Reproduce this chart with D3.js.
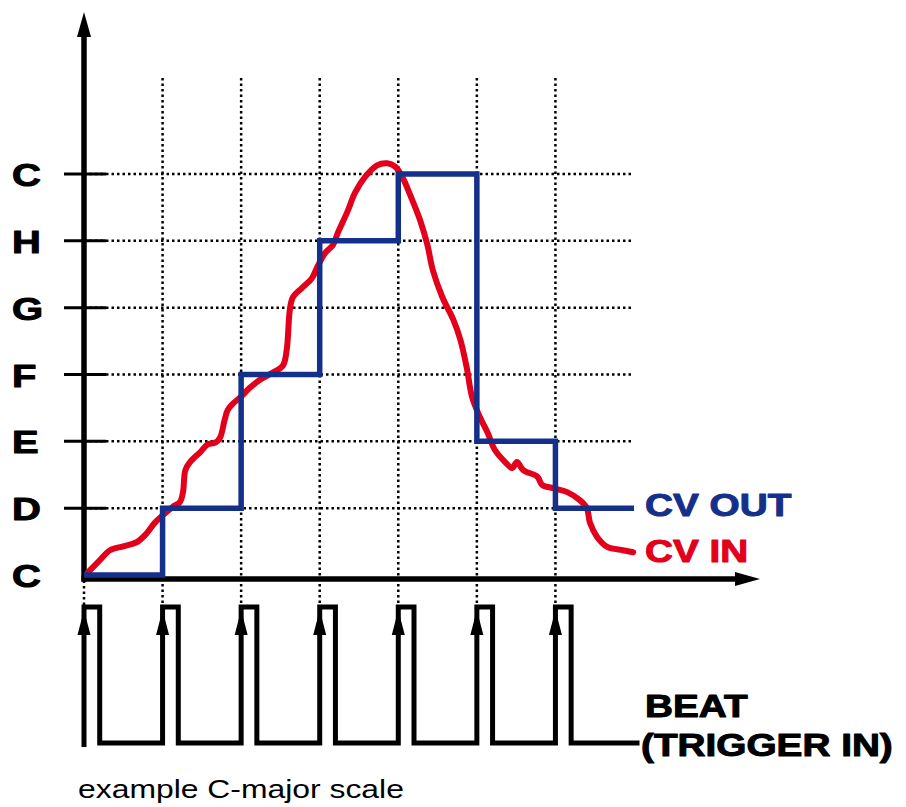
<!DOCTYPE html>
<html>
<head>
<meta charset="utf-8">
<script src="https://d3js.org/d3.v7.min.js"></script>
<style>
  body { margin: 0; background: #fff; }
  text { font-family: "Liberation Sans", Arial, sans-serif; }
</style>
</head>
<body>
<div id="chart"></div>
<script>
// note names on the y axis, bottom to top
var noteLabels = ["C", "D", "E", "F", "G", "H", "C"];
// beats where a trigger pulse comes in
var triggerBeats = [0, 1, 2, 3, 4, 5, 6];
// CV OUT: quantized note held from each beat until the next one
var cvOutLevel = [0, 1, 3, 5, 6, 2, 1];
// CV IN: raw control voltage, beat position and note level
var cvInBeat = [0.05, 0.20, 0.33, 0.50, 0.67, 0.78, 0.90, 1.01, 1.13, 1.22, 1.26, 1.29, 1.35, 1.48, 1.57, 1.67,
    1.73, 1.79, 1.83, 1.90, 1.99, 2.11, 2.24, 2.39, 2.53, 2.58, 2.62, 2.66, 2.77, 2.90, 2.97, 3.07,
    3.17, 3.23, 3.35, 3.45, 3.58, 3.73, 3.86, 3.96, 4.05, 4.15, 4.28, 4.37, 4.44, 4.56, 4.70, 4.79,
    4.87, 4.94, 5.04, 5.14, 5.23, 5.36, 5.45, 5.51, 5.59, 5.77, 5.83, 5.97, 6.15, 6.31, 6.40, 6.44,
    6.53, 6.66, 6.86, 6.99];
var cvInLevel = [0.04, 0.22, 0.37, 0.43, 0.49, 0.60, 0.78, 0.90, 1.02, 1.09, 1.24, 1.57, 1.69, 1.84, 1.95, 1.98,
    2.05, 2.32, 2.47, 2.57, 2.66, 2.80, 2.92, 3.02, 3.13, 3.37, 3.97, 4.16, 4.29, 4.44, 4.61, 4.82,
    4.94, 5.12, 5.43, 5.72, 5.96, 6.13, 6.16, 6.11, 5.96, 5.69, 5.30, 4.94, 4.56, 4.16, 3.82, 3.52,
    3.11, 2.66, 2.36, 2.12, 1.87, 1.69, 1.60, 1.69, 1.57, 1.47, 1.35, 1.30, 1.24, 1.12, 1.00, 0.78,
    0.57, 0.42, 0.37, 0.34];
var pulseWidth = 0.2;   // beats the trigger stays high
var pulseEnd = 7.07;    // where the beat line stops

var blue = "#15308a", red = "#e2001a";
var stretch = 1.25;     // the lettering is wide

var width = 906, height = 807;
var svg = d3.select("#chart")
    .append("svg")
    .attr("width", width)
    .attr("height", height);

var x = d3.scaleLinear().domain([0, 7]).range([84, 634]);
var y = d3.scaleLinear().domain([0, 6]).range([575, 174]);
var yPulse = d3.scaleLinear().domain([0, 1]).range([743, 607]);

var gridTop = 78;

// dotted grid
var grid = svg.append("g")
    .attr("stroke", "#000")
    .attr("stroke-width", 2.5)
    .attr("stroke-dasharray", "2.5,3");
grid.selectAll(".hgrid")
    .data(d3.range(1, noteLabels.length))
    .enter().append("line")
    .attr("x1", x(0)).attr("x2", x(7))
    .attr("y1", d => y(d)).attr("y2", d => y(d));
grid.selectAll(".vgrid")
    .data(triggerBeats)
    .enter().append("line")
    .attr("x1", d => x(d)).attr("x2", d => x(d))
    .attr("y1", d => d === 0 ? y(0) : gridTop)
    .attr("y2", yPulse(1));

// short solid ticks at every note
svg.selectAll(".tick")
    .data(d3.range(1, noteLabels.length))
    .enter().append("line")
    .attr("x1", x(0) - 20).attr("x2", x(0) + 22)
    .attr("y1", d => y(d)).attr("y2", d => y(d))
    .attr("stroke", "#000")
    .attr("stroke-width", 3);

// axes with arrow heads
var axisY = y(0) + 4;
svg.append("line")
    .attr("x1", x(0)).attr("x2", x(0))
    .attr("y1", axisY + 2.5).attr("y2", 32)
    .attr("stroke", "#000").attr("stroke-width", 5.5);
svg.append("path")
    .attr("d", "M" + x(0) + ",12L" + (x(0) - 7) + ",37L" + (x(0) + 7) + ",37Z");
svg.append("line")
    .attr("x1", x(0) - 2.5).attr("x2", 740)
    .attr("y1", axisY).attr("y2", axisY)
    .attr("stroke", "#000").attr("stroke-width", 5.5);
svg.append("path")
    .attr("d", "M760," + axisY + "L735," + (axisY - 7) + "L735," + (axisY + 7) + "Z");

// CV IN
var cvIn = cvInBeat.map((b, i) => [b, cvInLevel[i]]);
svg.append("path")
    .datum(cvIn)
    .attr("fill", "none")
    .attr("stroke", red)
    .attr("stroke-width", 6)
    .attr("stroke-linecap", "round")
    .attr("stroke-linejoin", "round")
    .attr("d", d3.line()
        .curve(d3.curveCatmullRom.alpha(0.5))
        .x(d => x(d[0]))
        .y(d => y(d[1])));

// CV OUT
var cvOut = triggerBeats.map((b, i) => [b, cvOutLevel[i]]);
cvOut.push([7, cvOutLevel[cvOutLevel.length - 1]]);
svg.append("path")
    .datum(cvOut)
    .attr("fill", "none")
    .attr("stroke", blue)
    .attr("stroke-width", 5.5)
    .attr("stroke-linejoin", "miter")
    .attr("d", d3.line()
        .curve(d3.curveStepAfter)
        .x(d => x(d[0]))
        .y(d => y(d[1])));

// beat / trigger pulses
var pulse = [[0, -0.03]];
triggerBeats.forEach(function (b) {
    pulse.push([b, 0], [b, 1], [b + pulseWidth, 1], [b + pulseWidth, 0]);
});
pulse.push([pulseEnd, 0]);
svg.append("path")
    .datum(pulse)
    .attr("fill", "none")
    .attr("stroke", "#000")
    .attr("stroke-width", 5)
    .attr("stroke-linejoin", "miter")
    .attr("d", d3.line()
        .x(d => x(d[0]))
        .y(d => yPulse(d[1])));
svg.selectAll(".trig")
    .data(triggerBeats)
    .enter().append("path")
    .attr("d", function (d) {
        var tx = x(d), ty = yPulse(1) + 3;
        return "M" + tx + "," + ty + "L" + (tx - 6.5) + "," + (ty + 25) + "L" + (tx + 6.5) + "," + (ty + 25) + "Z";
    });

// text
function label(str, px, py, size, color, weight) {
    var t = svg.append("text")
        .attr("transform", "translate(" + px + "," + py + ") scale(" + stretch + ",1)")
        .style("font-size", size + "px")
        .style("font-weight", weight)
        .attr("fill", color)
        .text(str);
    if (weight === "bold") {
        // the original lettering is heavier than a plain bold
        t.attr("stroke", color).attr("stroke-width", 1).attr("stroke-linejoin", "round");
    }
    return t;
}
noteLabels.forEach(function (n, i) {
    label(n, 12, y(i) + 12, 32, "#000", "bold");
});
label("CV OUT", 645, 516, 31, blue, "bold");
label("CV IN", 645, 562, 31, red, "bold");
label("BEAT", 645, 717, 31, "#000", "bold");
label("(TRIGGER IN)", 641, 756, 31, "#000", "bold");
label("example C-major scale", 78, 798, 25.5, "#000", "normal");
</script>
</body>
</html>
